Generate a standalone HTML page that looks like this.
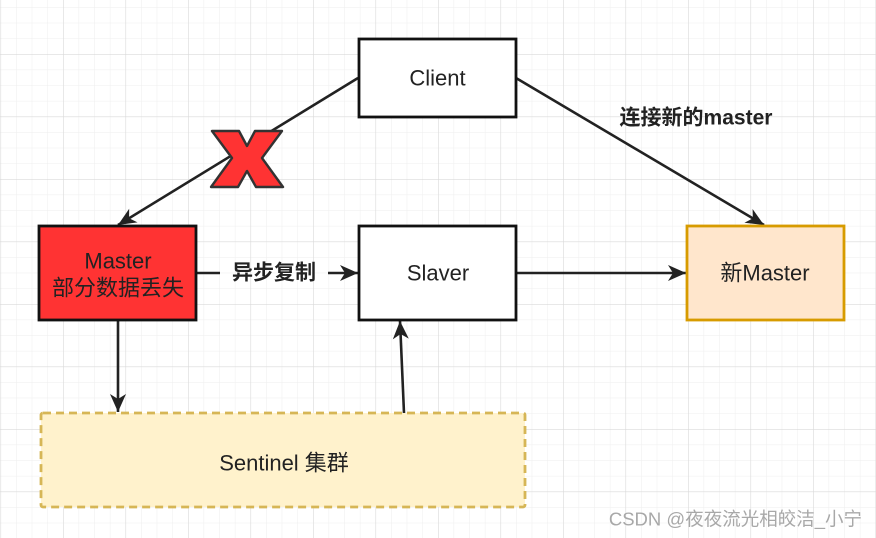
<!DOCTYPE html>
<html>
<head>
<meta charset="utf-8">
<style>
html,body{margin:0;padding:0;background:#fff;}
svg{display:block;}
text{font-family:"Liberation Sans","Noto Sans CJK SC",sans-serif;}
</style>
</head>
<body>
<svg width="876" height="538" viewBox="0 0 876 538" xmlns="http://www.w3.org/2000/svg">
  <defs>
    <pattern id="minor" x="0.5" y="7.125" width="15.625" height="15.625" patternUnits="userSpaceOnUse">
      <path d="M0 0 V15.625 M0 0 H15.625" stroke="#eeeeee" stroke-width="1" fill="none"/>
    </pattern>
    <pattern id="major" x="0.5" y="-8.5" width="62.5" height="62.5" patternUnits="userSpaceOnUse">
      <path d="M0 0 V62.5 M0 0 H62.5" stroke="#d9d9d9" stroke-width="1.2" fill="none"/>
    </pattern>
    <marker id="arr" markerUnits="userSpaceOnUse" markerWidth="20" markerHeight="18" refX="19" refY="9" orient="auto">
      <path d="M19,9 L1,1 L6,9 L1,17 Z" fill="#222"/>
    </marker>
  </defs>
  <rect width="876" height="538" fill="#fff"/>
  <rect width="876" height="538" fill="url(#minor)"/>
  <rect width="876" height="538" fill="url(#major)"/>

  <!-- connectors -->
  <line x1="358" y1="78" x2="118" y2="225" stroke="#222" stroke-width="2.6" marker-end="url(#arr)"/>
  <line x1="516" y1="78" x2="764" y2="225" stroke="#222" stroke-width="2.6" marker-end="url(#arr)"/>
  <line x1="197" y1="273" x2="220" y2="273" stroke="#222" stroke-width="2.6"/>
  <line x1="328" y1="273" x2="358" y2="273" stroke="#222" stroke-width="2.6" marker-end="url(#arr)"/>
  <line x1="517" y1="273" x2="686" y2="273" stroke="#222" stroke-width="2.6" marker-end="url(#arr)"/>
  <line x1="118" y1="320" x2="118" y2="412" stroke="#222" stroke-width="2.6" marker-end="url(#arr)"/>
  <line x1="404" y1="413" x2="400" y2="321" stroke="#222" stroke-width="2.6" marker-end="url(#arr)"/>

  <!-- X mark -->
  <polygon points="212,131 239,131 247,146 255,131 282,131 262,158 283,187 256,187 247,171 238,187 211,187 232,158" fill="#ff3333" stroke="#333" stroke-width="2.4" stroke-linejoin="round"/>

  <!-- Client -->
  <rect x="359" y="39" width="157" height="78" fill="#fff" stroke="#111" stroke-width="2.8"/>
  <text x="437.5" y="78" font-size="22" fill="#222" text-anchor="middle" dominant-baseline="central">Client</text>

  <!-- Master -->
  <rect x="39" y="226" width="157" height="94" fill="#ff3333" stroke="#111" stroke-width="2.8"/>
  <text x="118" y="261" font-size="22" fill="#222" text-anchor="middle" dominant-baseline="central">Master</text>
  <text x="118" y="288" font-size="22" fill="#222" text-anchor="middle" dominant-baseline="central">部分数据丢失</text>

  <!-- Slaver -->
  <rect x="359" y="226" width="157" height="94" fill="#fff" stroke="#111" stroke-width="2.8"/>
  <text x="438" y="273" font-size="22" fill="#222" text-anchor="middle" dominant-baseline="central">Slaver</text>

  <!-- New Master -->
  <rect x="687" y="226" width="157" height="94" fill="#ffe6cc" stroke="#d79b00" stroke-width="2.8"/>
  <text x="765" y="273" font-size="22" fill="#222" text-anchor="middle" dominant-baseline="central">新Master</text>

  <!-- Sentinel -->
  <rect x="41" y="413" width="484" height="94" fill="#fff2cc" stroke="#d6b656" stroke-width="2.8" stroke-dasharray="8,5" rx="2"/>
  <text x="284" y="463" font-size="22" fill="#222" text-anchor="middle" dominant-baseline="central">Sentinel 集群</text>

  <!-- labels -->
  <text x="274" y="273" font-size="21" font-weight="bold" fill="#222" text-anchor="middle" dominant-baseline="central">异步复制</text>
  <text x="696" y="118" font-size="21" font-weight="bold" fill="#222" text-anchor="middle" dominant-baseline="central">连接新的master</text>

  <!-- watermark -->
  <text x="862" y="519" font-size="18.5" fill="#a8a8a8" text-anchor="end" dominant-baseline="central">CSDN @夜夜流光相皎洁_小宁</text>
</svg>
</body>
</html>
